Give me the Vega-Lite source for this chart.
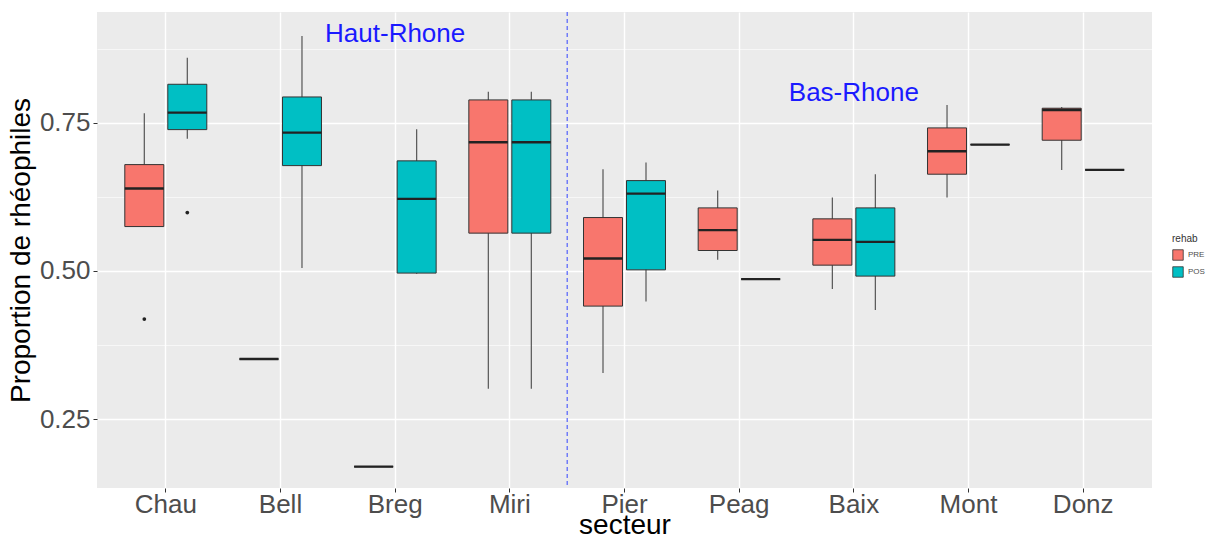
{
  "$schema": "https://vega.github.io/schema/vega-lite/v6.json",
  "width": 1055,
  "height": 476,
  "autosize": {"type": "none"},
  "padding": {"left": 97, "top": 12, "right": 56, "bottom": 51},
  "background": "white",
  "config": {
    "font": "Liberation Sans",
    "view": {"fill": "#EBEBEB", "stroke": null},
    "axis": {"domain": false}
  },
  "datasets": {
    "stats": [
      {"secteur": "Chau", "rehab": "PRE", "lower": 0.5747, "q1": 0.5747, "median": 0.6388, "q3": 0.6792, "upper": 0.7658},
      {"secteur": "Chau", "rehab": "POS", "lower": 0.723, "q1": 0.7382, "median": 0.7669, "q3": 0.8147, "upper": 0.8596},
      {"secteur": "Bell", "rehab": "PRE", "lower": 0.3512, "q1": 0.3512, "median": 0.3512, "q3": 0.3512, "upper": 0.3512},
      {"secteur": "Bell", "rehab": "POS", "lower": 0.5046, "q1": 0.6775, "median": 0.7331, "q3": 0.7933, "upper": 0.8961},
      {"secteur": "Breg", "rehab": "PRE", "lower": 0.1697, "q1": 0.1697, "median": 0.1697, "q3": 0.1697, "upper": 0.1697},
      {"secteur": "Breg", "rehab": "POS", "lower": 0.495, "q1": 0.4962, "median": 0.6214, "q3": 0.6855, "upper": 0.7389},
      {"secteur": "Miri", "rehab": "PRE", "lower": 0.3012, "q1": 0.5636, "median": 0.717, "q3": 0.7883, "upper": 0.8022},
      {"secteur": "Miri", "rehab": "POS", "lower": 0.3012, "q1": 0.5636, "median": 0.717, "q3": 0.7883, "upper": 0.8022},
      {"secteur": "Pier", "rehab": "PRE", "lower": 0.3276, "q1": 0.4405, "median": 0.5208, "q3": 0.5899, "upper": 0.6715},
      {"secteur": "Pier", "rehab": "POS", "lower": 0.4483, "q1": 0.5017, "median": 0.6303, "q3": 0.6522, "upper": 0.6826},
      {"secteur": "Peag", "rehab": "PRE", "lower": 0.5186, "q1": 0.5343, "median": 0.5686, "q3": 0.6062, "upper": 0.6354},
      {"secteur": "Peag", "rehab": "POS", "lower": 0.486, "q1": 0.486, "median": 0.486, "q3": 0.486, "upper": 0.486},
      {"secteur": "Baix", "rehab": "PRE", "lower": 0.4692, "q1": 0.5096, "median": 0.5523, "q3": 0.5877, "upper": 0.6236},
      {"secteur": "Baix", "rehab": "POS", "lower": 0.4338, "q1": 0.4911, "median": 0.5489, "q3": 0.6062, "upper": 0.663},
      {"secteur": "Mont", "rehab": "PRE", "lower": 0.6236, "q1": 0.663, "median": 0.7018, "q3": 0.7411, "upper": 0.7798},
      {"secteur": "Mont", "rehab": "POS", "lower": 0.7129, "q1": 0.7129, "median": 0.7129, "q3": 0.7129, "upper": 0.7129},
      {"secteur": "Donz", "rehab": "PRE", "lower": 0.6703, "q1": 0.7203, "median": 0.7714, "q3": 0.7743, "upper": 0.7765},
      {"secteur": "Donz", "rehab": "POS", "lower": 0.6703, "q1": 0.6703, "median": 0.6703, "q3": 0.6703, "upper": 0.6703}
    ],
    "outliers": [
      {"secteur": "Chau", "rehab": "PRE", "value": 0.4186},
      {"secteur": "Chau", "rehab": "POS", "value": 0.5983}
    ],
    "divider": [{"secteur": "Miri"}],
    "labels": [
      {"secteur": "Breg", "value": 0.9, "label": "Haut-Rhone"},
      {"secteur": "Baix", "value": 0.8, "label": "Bas-Rhone"}
    ]
  },
  "encoding": {
    "x": {
      "field": "secteur",
      "type": "nominal",
      "sort": ["Chau", "Bell", "Breg", "Miri", "Pier", "Peag", "Baix", "Mont", "Donz"],
      "scale": {"type": "band", "domain": ["Chau", "Bell", "Breg", "Miri", "Pier", "Peag", "Baix", "Mont", "Donz"], "paddingInner": 0, "paddingOuter": 0.1},
      "axis": {
        "title": "secteur",
        "titleFontSize": 28,
        "titleFontWeight": "normal",
        "titleColor": "#000000",
        "titlePadding": -6,
        "labelAngle": 0,
        "labelFontSize": 26,
        "labelColor": "#4D4D4D",
        "labelPadding": -1,
        "tickSize": 4,
        "tickColor": "#333333",
        "tickWidth": 1,
        "bandPosition": 0.5,
        "grid": true,
        "gridColor": "#FFFFFF",
        "gridWidth": 1.4
      }
    },
    "y": {
      "type": "quantitative",
      "scale": {"domain": [0.1337, 0.9366], "nice": false, "zero": false}
    }
  },
  "layer": [
    {
      "data": {"name": "stats"},
      "mark": {"type": "rule", "color": "#555555", "strokeWidth": 1.2},
      "encoding": {
        "xOffset": {"field": "rehab", "type": "nominal", "scale": {"domain": ["PRE", "POS"], "paddingInner": 0.093, "paddingOuter": 0.38}},
        "y": {
          "field": "lower",
          "type": "quantitative",
          "axis": {
            "title": "Proportion de rhéophiles",
            "titleFontSize": 28,
            "titleFontWeight": "normal",
            "titleColor": "#000000",
            "titlePadding": 4,
            "values": [0.25, 0.375, 0.5, 0.625, 0.75, 0.875],
            "labelExpr": "(datum.value == 0.25 || datum.value == 0.5 || datum.value == 0.75) ? format(datum.value, '.2f') : ''",
            "labelFontSize": 26,
            "labelColor": "#4D4D4D",
            "labelPadding": 3,
            "tickSize": 4,
            "tickColor": "#333333",
            "tickOpacity": {"condition": {"test": "datum.value == 0.25 || datum.value == 0.5 || datum.value == 0.75", "value": 1}, "value": 0},
            "grid": true,
            "gridColor": "#FFFFFF",
            "gridWidth": {"condition": {"test": "datum.value == 0.25 || datum.value == 0.5 || datum.value == 0.75", "value": 1.4}, "value": 0.6}
          }
        },
        "y2": {"field": "upper"}
      }
    },
    {
      "data": {"name": "stats"},
      "mark": {"type": "bar", "stroke": "#333333", "strokeWidth": 1},
      "encoding": {
        "xOffset": {"field": "rehab", "type": "nominal", "scale": {"domain": ["PRE", "POS"], "paddingInner": 0.093, "paddingOuter": 0.38}},
        "y": {"field": "q1", "type": "quantitative"},
        "y2": {"field": "q3"},
        "fill": {
          "field": "rehab",
          "type": "nominal",
          "scale": {"domain": ["PRE", "POS"], "range": ["#F8766D", "#00BFC4"]},
          "legend": {
            "title": "rehab",
            "orient": "none",
            "legendX": 1075,
            "legendY": 222,
            "titleFontSize": 10,
            "titleFontWeight": "normal",
            "titleColor": "#333333",
            "labelFontSize": 8,
            "labelColor": "#4D4D4D",
            "symbolType": "square",
            "symbolSize": 110,
            "symbolStrokeColor": "#333333",
            "symbolStrokeWidth": 0.8,
            "symbolOpacity": 1,
            "rowPadding": 3
          }
        }
      }
    },
    {
      "data": {"name": "stats"},
      "mark": {"type": "bar", "fill": null, "fillOpacity": 0, "stroke": "#222222", "strokeWidth": 2.4},
      "encoding": {
        "xOffset": {"field": "rehab", "type": "nominal", "scale": {"domain": ["PRE", "POS"], "paddingInner": 0.093, "paddingOuter": 0.38}},
        "y": {"field": "median", "type": "quantitative"},
        "y2": {"field": "median"}
      }
    },
    {
      "data": {"name": "outliers"},
      "mark": {"type": "point", "filled": true, "color": "#222222", "size": 14, "opacity": 1},
      "encoding": {
        "xOffset": {"field": "rehab", "type": "nominal", "scale": {"domain": ["PRE", "POS"], "paddingInner": 0.093, "paddingOuter": 0.38}},
        "y": {"field": "value", "type": "quantitative"}
      }
    },
    {
      "data": {"name": "divider"},
      "mark": {"type": "rule", "color": "#3344FF", "strokeWidth": 1, "strokeDash": [4, 3]},
      "encoding": {
        "x": {"field": "secteur", "type": "nominal", "bandPosition": 1}
      }
    },
    {
      "data": {"name": "labels"},
      "mark": {"type": "text", "color": "#1A1AFF", "fontSize": 26, "baseline": "middle", "align": "center"},
      "encoding": {
        "y": {"field": "value", "type": "quantitative"},
        "text": {"field": "label"}
      }
    }
  ]
}
